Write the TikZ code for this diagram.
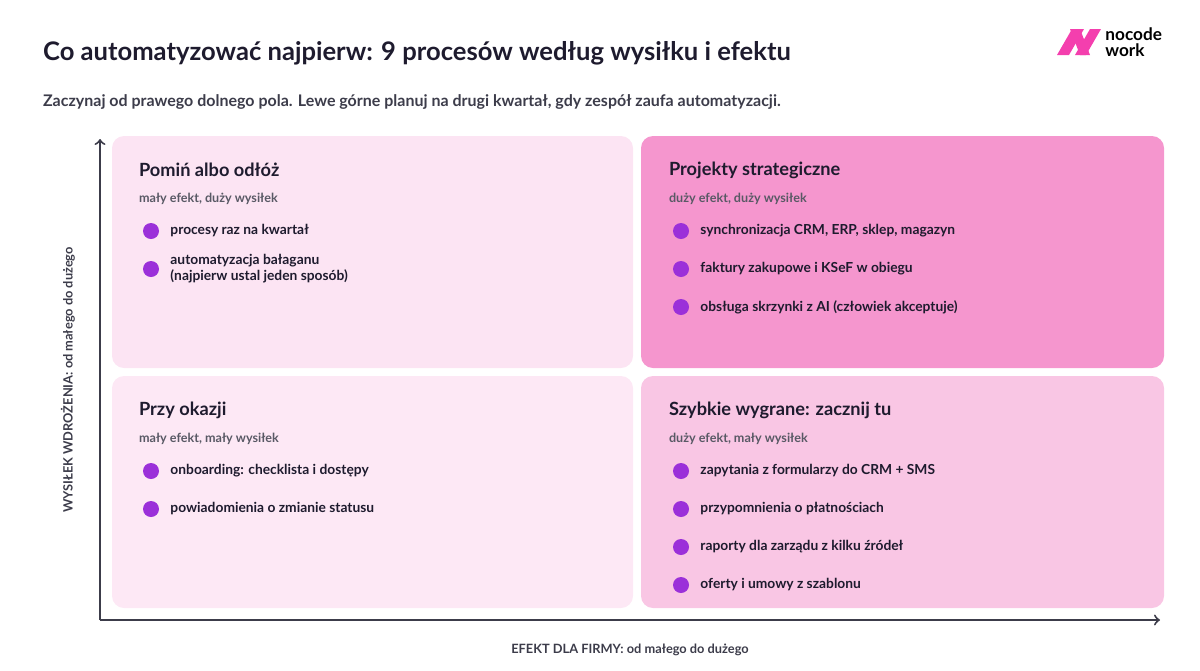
\documentclass[tikz,border=0pt]{standalone}
\usepackage{fontspec}
\setmainfont{Lato}
\usetikzlibrary{positioning}
\definecolor{ink}{HTML}{1E1B2E}
\definecolor{axis}{HTML}{3C3C4A}
\definecolor{dot}{HTML}{9B30D9}
\definecolor{qtl}{HTML}{FCE4F3}
\definecolor{qtr}{HTML}{F596CE}
\definecolor{qbl}{HTML}{FDE8F5}
\definecolor{qbr}{HTML}{F9C6E4}
\definecolor{logo}{HTML}{F43FAE}
\tikzset{
  box/.style={rounded corners=6pt, draw=none},
  head/.style={anchor=west, text=ink, font=\fontsize{9.1}{10}\selectfont\bfseries},
  note/.style={anchor=west, text=axis!85, font=\fontsize{6.3}{7}\selectfont\bfseries},
  item/.style={anchor=west, text=ink, align=left, font=\fontsize{6.9}{8}\selectfont\bfseries},
  bullet/.style={circle, fill=dot, minimum size=8pt, inner sep=0pt},
  brand/.style={anchor=base west, text=black, inner sep=0pt, font=\fontsize{8.6}{9}\selectfont\bfseries}
}
\begin{document}
\begin{tikzpicture}[x=0.5pt,y=-0.5pt]
                    \useasboundingbox (0,0) rectangle (1200,670);
                    \node[anchor=west, text=ink, font=\fontsize{12.8}{14}\selectfont\bfseries] (title) at (36,53) {Co automatyzować najpierw: 9 procesów według wysiłku i efektu};
                    \node[anchor=west, text=axis, font=\fontsize{8}{9}\selectfont\bfseries] (sub) at (36,102) {Zaczynaj od prawego dolnego pola. Lewe górne planuj na drugi kwartał, gdy zespół zaufa automatyzacji.};
                    % logo
                    \fill[logo] (1057,55)--(1072,29)--(1084,29)--(1069,55)--cycle;
                    \fill[logo] (1075,55)--(1090,29)--(1101,29)--(1086,55)--cycle;
                    \fill[logo] (1070,29)--(1080,29)--(1090,55)--(1080,55)--cycle;
                    \node[brand] (nocode) at (1105,40) {nocode};
                    \node[brand] (work) at (1105,56) {work};
                    % quadrants
                    \fill[box, qtl] (112,136) rectangle (633,368);
                    \fill[box, qtr] (641,136) rectangle (1164,368);
                    \fill[box, qbl] (112,376) rectangle (633,608);
                    \fill[box, qbr] (641,376) rectangle (1164,608);
                    % axes
                    \coordinate (o) at (100,620);
                    \coordinate (ytop) at (100,139);
                    \coordinate (xend) at (1160,620);
                    \draw[axis, line width=1pt, ->] (o)--(ytop);
                    \draw[axis, line width=1pt, ->] (o)--(xend);
                    \node[text=axis, font=\fontsize{6.4}{7}\selectfont\bfseries] (xlab) at (630,650) {EFEKT DLA FIRMY: od małego do dużego};
                    \node[text=axis, rotate=90, font=\fontsize{6.4}{7}\selectfont\bfseries] (ylab) at (68,380) {WYSIŁEK WDROŻENIA: od małego do dużego};
                    % top left
                    \node[head] (tl) at (132,170) {Pomiń albo odłóż};
                    \node[note] (tln) at (132,199) {mały efekt, duży wysiłek};
                    \node[bullet] (tl1) at (151,231) {};
                    \node[item, right=2pt of tl1] {procesy raz na kwartał};
                    \node[bullet] (tl2) at (151,269) {};
                    \node[item, right=2pt of tl2] {automatyzacja bałaganu\\(najpierw ustal jeden sposób)};
                    % top right
                    \node[head] (tr) at (662,170) {Projekty strategiczne};
                    \node[note] (trn) at (662,199) {duży efekt, duży wysiłek};
                    \node[bullet] (tr1) at (681,231) {};
                    \node[item, right=2pt of tr1] {synchronizacja CRM, ERP, sklep, magazyn};
                    \node[bullet] (tr2) at (681,269) {};
                    \node[item, right=2pt of tr2] {faktury zakupowe i KSeF w obiegu};
                    \node[bullet] (tr3) at (681,307) {};
                    \node[item, right=2pt of tr3] {obsługa skrzynki z AI (człowiek akceptuje)};
                    % bottom left
                    \node[head] (bl) at (132,410) {Przy okazji};
                    \node[note] (bln) at (132,439) {mały efekt, mały wysiłek};
                    \node[bullet] (bl1) at (151,471) {};
                    \node[item, right=2pt of bl1] {onboarding: checklista i dostępy};
                    \node[bullet] (bl2) at (151,509) {};
                    \node[item, right=2pt of bl2] {powiadomienia o zmianie statusu};
                    % bottom right
                    \node[head] (br) at (662,410) {Szybkie wygrane: zacznij tu};
                    \node[note] (brn) at (662,439) {duży efekt, mały wysiłek};
                    \node[bullet] (br1) at (681,471) {};
                    \node[item, right=2pt of br1] {zapytania z formularzy do CRM + SMS};
                    \node[bullet] (br2) at (681,509) {};
                    \node[item, right=2pt of br2] {przypomnienia o płatnościach};
                    \node[bullet] (br3) at (681,547) {};
                    \node[item, right=2pt of br3] {raporty dla zarządu z kilku źródeł};
                    \node[bullet] (br4) at (681,585) {};
                    \node[item, right=2pt of br4] {oferty i umowy z szablonu};
\end{tikzpicture}
\end{document}
